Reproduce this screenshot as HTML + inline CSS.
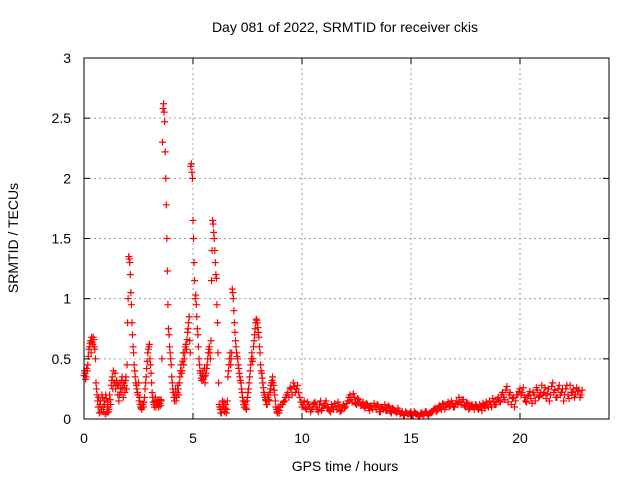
<!DOCTYPE html>
<html><head><meta charset="utf-8"><style>
html,body{margin:0;padding:0;background:#fff;}
svg{display:block;font-family:"Liberation Sans",sans-serif;}
</style></head><body>
<svg id="chart" width="640" height="480" xmlns="http://www.w3.org/2000/svg">
<rect x="0" y="0" width="640" height="480" fill="#fff"/>
<text x="345" y="32" font-size="14" text-anchor="middle">Day 081 of 2022, SRMTID for receiver ckis</text>
<text x="0" y="0" font-size="14" text-anchor="middle" transform="translate(18,238) rotate(-90)">SRMTID / TECUs</text>
<text x="345" y="471" font-size="14" text-anchor="middle">GPS time / hours</text>
<g id="grid"></g>
<g id="marks"></g>
<rect x="84" y="58" width="525" height="361" fill="none" stroke="#000" stroke-width="1"/>
<g id="ticks"></g>
</svg>
<script>
const xTicks = [0, 5, 10, 15, 20];
const yTicks = [0, 0.5, 1, 1.5, 2, 2.5, 3];
const yTickLabels = ["0", "0.5", "1", "1.5", "2", "2.5", "3"];
const segAStart = 0, segAStep = 0.05;
const segAValues = [0.36,0.38,0.35,0.40,
0.52,0.60,0.65,0.68,0.62,0.66,0.58,
0.30,0.20,
0.10,0.05,0.15,0.08,0.18,0.06,0.12,0.20,0.05,0.14,0.08,0.16,
0.28,0.35,0.40,0.30,0.25,0.32,
0.20,0.15,0.30,0.22,0.35,0.18,0.28,0.32,0.25,
0.80,1.35,1.30,1.05,0.80,0.60,
0.45,0.35,0.28,0.22,0.30,0.18,
0.10,0.08,0.12,0.14,0.25,0.35,
0.48,0.58,0.62,0.45,0.30,
0.18,0.12,0.15,0.10,0.14,0.12,0.16,0.11,0.15,
2.30,2.62,2.47,2.00,
1.50,0.95,0.70,0.55,0.45,
0.30,0.22,0.15,0.25,0.18,0.28,0.20,
0.35,0.45,0.40,0.55,0.50,0.60,0.58,0.72,0.80,0.65,
2.10,2.05,1.65,1.30,
1.00,0.95,0.75,0.60,
0.45,0.38,0.32,0.40,0.35,0.30,0.38,
0.45,0.55,0.60,0.50,1.15,1.65,1.55,
1.40,1.20,0.95,0.55,
0.12,0.08,0.05,0.15,0.10,0.06,0.12,0.08,
0.35,0.45,0.55,0.50,
1.08,1.00,0.80,0.65,
0.55,0.50,0.42,0.35,0.30,0.22,
0.15,0.10,0.12,0.08,0.18,0.25,
0.35,0.45,0.55,0.50,0.65,0.75,
0.83,0.80,0.72,0.60,
0.45,0.38,0.30,0.22,0.18,0.15,
0.12,0.20,0.15,0.25,0.30,0.35,0.28,0.20,
0.10,0.06,0.08,0.05,0.10];
const segA2Start = 0.025, segA2Step = 0.05;
const segA2Values = [0.40,0.33,0.42,0.45,
0.58,0.63,0.55,0.64,0.68,0.60,0.50,
0.25,0.15,
0.18,0.12,0.06,0.20,0.10,0.15,0.04,0.17,0.10,0.06,0.20,0.12,
0.32,0.25,0.30,0.38,0.30,0.28,
0.28,0.20,0.25,0.32,0.26,0.30,0.22,0.35,0.45,
1.00,1.33,1.20,0.95,0.70,0.55,
0.40,0.30,0.25,0.20,0.15,0.12,
0.09,0.12,0.10,0.18,0.30,0.42,
0.55,0.60,0.50,0.38,0.22,
0.14,0.10,0.18,0.12,0.15,0.10,0.13,0.16,0.50,
2.58,2.55,2.22,1.78,
1.23,0.75,0.60,0.50,0.35,
0.25,0.18,0.20,0.15,0.22,0.25,0.30,
0.40,0.38,0.48,0.45,0.55,0.62,0.66,0.75,0.85,0.55,
2.12,2.00,1.50,1.15,
1.03,0.85,0.70,0.50,
0.40,0.34,0.36,0.33,0.42,0.36,0.42,
0.50,0.58,0.55,0.65,1.40,1.62,1.50,
1.30,1.17,0.80,0.30,
0.10,0.05,0.08,0.12,0.14,0.09,0.05,0.15,
0.40,0.50,0.45,0.55,
1.05,0.90,0.72,0.60,
0.52,0.45,0.38,0.32,0.25,0.18,
0.12,0.14,0.09,0.15,0.22,0.30,
0.40,0.50,0.48,0.60,0.70,0.80,
0.82,0.76,0.68,0.55,
0.40,0.34,0.26,0.20,0.16,0.12,
0.18,0.16,0.22,0.28,0.32,0.30,0.24,0.15,
0.08,0.05,0.10,0.07,0.12];
const segBStart = 9.1, segBStep = 0.1;
const segBValues = [0.12,0.15,0.20,0.18,0.25,0.30,0.22,0.28,0.18,
0.10,0.15,0.08,0.12,0.06,0.10,0.14,0.08,0.12,0.07,0.11,0.15,0.09,0.06,0.10,0.13,0.08,0.11,0.07,0.12,
0.10,0.15,0.20,0.14,0.18,0.12,0.16,0.11,0.14,0.09,
0.12,0.07,0.10,0.13,0.08,0.11,0.06,0.09,0.12,0.07,0.10,0.05,0.08,0.06,0.09,
0.04,0.06,0.03,0.05,0.04,0.06,0.03,0.05,0.04,0.03,0.05,0.04,0.06,0.03,0.05,
0.06,0.09,0.07,0.11,0.08,0.12,0.10,0.14,0.11,0.13,
0.10,0.15,0.18,0.12,0.16,0.10,0.13,0.09,0.12,0.08,
0.11,0.08,0.10,0.13,0.09,0.12,0.15,0.10,0.14,0.12,
0.18,0.14,0.22,0.16,0.27,0.20,0.12,0.18,0.15,0.20,
0.25,0.22,0.18,0.14,0.20,0.17,0.22,0.15,0.24,0.19,
0.28,0.22,0.17,0.25,0.20,0.30,0.24,0.18,0.28,0.22,
0.15,0.25,0.20,0.28,0.22,0.18,0.26,0.24,0.20];
const segB2Start = 9.15, segB2Step = 0.1;
const segB2Values = [0.14,0.18,0.22,0.26,0.20,0.27,0.25,0.22,0.14,
0.12,0.09,0.14,0.10,0.08,0.13,0.10,0.06,0.15,0.09,0.13,0.10,0.07,0.12,0.08,0.10,0.14,0.06,0.10,0.09,
0.13,0.18,0.16,0.21,0.13,0.17,0.14,0.12,0.10,0.13,
0.09,0.11,0.08,0.10,0.12,0.06,0.10,0.08,0.07,0.11,0.06,0.09,0.07,0.05,0.07,
0.05,0.03,0.06,0.04,0.05,0.03,0.06,0.04,0.02,0.05,0.03,0.06,0.04,0.05,0.06,
0.08,0.06,0.10,0.09,0.13,0.08,0.12,0.10,0.15,0.10,
0.13,0.12,0.14,0.16,0.11,0.14,0.08,0.11,0.10,0.12,
0.09,0.12,0.07,0.11,0.14,0.10,0.12,0.17,0.12,0.16,
0.15,0.20,0.18,0.24,0.14,0.22,0.17,0.10,0.20,0.23,
0.20,0.26,0.15,0.19,0.23,0.13,0.20,0.26,0.18,0.22,
0.20,0.26,0.21,0.15,0.27,0.22,0.18,0.25,0.20,0.25,
0.20,0.28,0.17,0.22,0.25,0.20,0.23,0.18,0.24];

const NS = "http://www.w3.org/2000/svg";
const X0 = 84, XPX = 21.8, Y0 = 419, YPX = 120.33;
function xs(t){ return X0 + t * XPX; }
function ys(v){ return Y0 - v * YPX; }
function mk(tag, attrs, parent){ const e = document.createElementNS(NS, tag); for (const k in attrs) e.setAttribute(k, attrs[k]); parent.appendChild(e); return e; }

const grid = document.getElementById('grid');
const ticks = document.getElementById('ticks');
yTicks.forEach((v, i) => {
  const y = ys(v);
  if (v > 0 && v < 3) {
    const g = mk('line', {x1: 84, x2: 609, y1: y, y2: y, stroke: '#a0a0a0', 'stroke-dasharray': '2,3', 'stroke-width': 1}, grid);
    
    
  }
  const t1 = mk('line', {x1: 84, x2: 90, y1: y, y2: y, stroke: '#000'}, ticks);
  
  
  const t2 = mk('line', {x1: 603, x2: 609, y1: y, y2: y, stroke: '#000'}, ticks);
  
  
  const lb = mk('text', {x: 71, y: y + 5, 'font-size': 14, 'text-anchor': 'end'}, ticks);
  lb.textContent = yTickLabels[i];
  
  
});
xTicks.forEach(t => {
  const x = xs(t);
  if (t > 0) {
    const g = mk('line', {x1: x, x2: x, y1: 58, y2: 419, stroke: '#a0a0a0', 'stroke-dasharray': '2,3', 'stroke-width': 1}, grid);
    
    
  }
  const t1 = mk('line', {x1: x, x2: x, y1: 413, y2: 419, stroke: '#000'}, ticks);
  
  
  const t2 = mk('line', {x1: x, x2: x, y1: 58, y2: 64, stroke: '#000'}, ticks);
  
  
  const lb = mk('text', {x: x, y: 443, 'font-size': 14, 'text-anchor': 'middle'}, ticks);
  lb.textContent = String(t);
  
  
});

const marks = document.getElementById('marks');
function plus(t, v){
  const x = xs(t), y = ys(v);
  const p = mk('path', {d: `M${x-3.5},${y}H${x+3.5}M${x},${y-3.5}V${y+3.5}`, stroke: '#ff0000', 'stroke-width': 1.2, fill: 'none'}, marks);
  
  
}
segAValues.forEach((v, i) => plus(segAStart + i * segAStep, v));
segA2Values.forEach((v, i) => plus(segA2Start + i * segA2Step, v));
segBValues.forEach((v, i) => plus(segBStart + i * segBStep, v));
segB2Values.forEach((v, i) => plus(segB2Start + i * segB2Step, v));
</script>
</body></html>
